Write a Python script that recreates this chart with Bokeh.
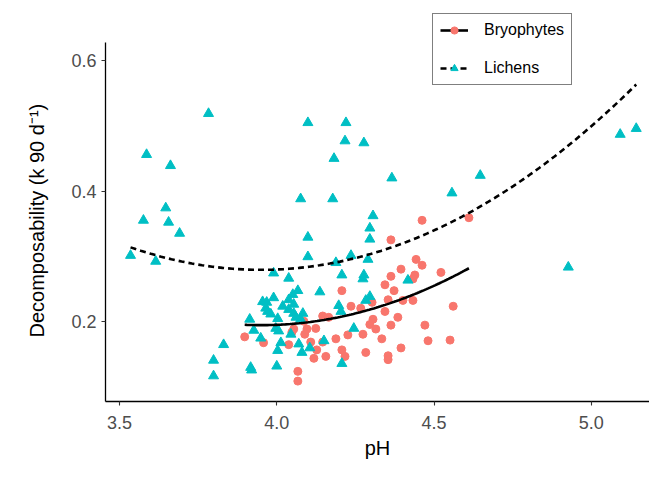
import numpy as np
from bokeh.plotting import figure
from bokeh.models import Range1d, FixedTicker, Legend, LegendItem, Title
from bokeh.embed import file_html
from bokeh.resources import INLINE

# ---- data ----
lichen_ph = [3.586, 3.662, 3.783, 3.647, 3.576, 3.656, 3.691, 3.535, 3.615, 3.990,
             4.038, 4.076, 4.099, 4.220, 4.217, 4.277, 4.182, 4.366, 4.178, 4.557,
             4.647, 5.092, 5.143, 4.927, 4.306, 4.296, 4.296, 4.099, 4.099, 4.236,
             4.290, 4.188, 4.207, 4.277, 4.274, 4.417, 4.296, 4.283, 4.245, 4.137,
             4.067, 4.051, 3.990, 4.038, 3.955, 3.968, 4.054, 4.197, 4.019, 3.965,
             4.204, 4.038, 3.971, 4.054, 4.083, 3.981, 4.061, 4.003, 3.914, 4.076,
             3.997, 4.006, 3.927, 4.045, 3.949, 4.013, 4.070, 4.003, 4.080, 4.105,
             4.150, 3.831, 3.799, 3.917, 3.920, 4.000, 3.799, 4.207]
lichen_k = [0.456, 0.439, 0.519, 0.374, 0.355, 0.352, 0.335, 0.301, 0.292, 0.274,
            0.266, 0.388, 0.505, 0.505, 0.477, 0.474, 0.450, 0.420, 0.388, 0.397,
            0.424, 0.487, 0.496, 0.283, 0.362, 0.343, 0.326, 0.329, 0.299, 0.301,
            0.295, 0.290, 0.271, 0.271, 0.265, 0.263, 0.238, 0.232, 0.189, 0.245,
            0.247, 0.241, 0.236, 0.233, 0.230, 0.229, 0.226, 0.224, 0.223, 0.220,
            0.215, 0.218, 0.215, 0.212, 0.212, 0.211, 0.206, 0.204, 0.203, 0.203,
            0.189, 0.185, 0.186, 0.180, 0.174, 0.167, 0.165, 0.155, 0.152, 0.159,
            0.170, 0.164, 0.140, 0.129, 0.125, 0.131, 0.116, 0.135]

bryo_ph = [3.898, 3.958, 4.207, 4.086, 4.146, 4.165, 4.236, 4.267, 4.054, 4.048,
           4.096, 4.124, 4.089, 4.108, 4.038, 4.146, 4.188, 4.226, 4.127, 4.207,
           4.156, 4.217, 4.118, 4.067, 4.067, 4.462, 4.611, 4.363, 4.443, 4.462,
           4.395, 4.363, 4.522, 4.439, 4.433, 4.344, 4.373, 4.354, 4.401, 4.433,
           4.303, 4.561, 4.344, 4.306, 4.296, 4.385, 4.315, 4.363, 4.471, 4.274,
           4.334, 4.481, 4.551, 4.395, 4.283, 4.354, 4.354]
bryo_k = [0.176, 0.167, 0.247, 0.200, 0.208, 0.206, 0.223, 0.220, 0.188, 0.183,
          0.188, 0.189, 0.180, 0.168, 0.164, 0.168, 0.173, 0.179, 0.156, 0.156,
          0.146, 0.146, 0.143, 0.123, 0.108, 0.355, 0.359, 0.325, 0.295, 0.286,
          0.280, 0.269, 0.275, 0.271, 0.265, 0.256, 0.247, 0.233, 0.232, 0.232,
          0.229, 0.223, 0.215, 0.203, 0.195, 0.206, 0.188, 0.194, 0.194, 0.180,
          0.173, 0.170, 0.171, 0.159, 0.152, 0.147, 0.141]

# quadratic fits (shared curvature, group-specific minimum)
fit_curvature = 0.20
fit_vertex_ph = 3.95
fit_min_bryo = 0.194
fit_min_lichen = 0.279

x_ticks = [3.5, 4.0, 4.5, 5.0]
x_tick_labels = ["3.5", "4.0", "4.5", "5.0"]
y_ticks = [0.2, 0.4, 0.6]
y_tick_labels = ["0.2", "0.4", "0.6"]

X_LO, X_HI = 3.4554, 5.1852
Y_LO, Y_AXIS_HI, Y_FRAME_HI = 0.0767, 0.6286, 0.6804

BRYO_COL = "#F8766D"
LICH_COL = "#00BFC4"
FONT = "Liberation Sans"

p = figure(width=649, height=461, output_backend="svg", toolbar_location=None,
           x_range=Range1d(X_LO, X_HI), y_range=Range1d(Y_LO, Y_FRAME_HI),
           min_border_left=105, min_border_right=0, min_border_top=8,
           min_border_bottom=57)
p.outline_line_color = None
p.xgrid.visible = False
p.ygrid.visible = False
p.background_fill_color = "white"
p.border_fill_color = "white"

for ax in (p.xaxis[0], p.yaxis[0]):
    ax.axis_line_color = "black"
    ax.axis_line_width = 1.3
    ax.major_tick_line_color = "#333333"
    ax.major_tick_line_width = 1.1
    ax.major_tick_out = 4
    ax.major_tick_in = 0
    ax.minor_tick_line_color = None
    ax.major_label_text_font = FONT
    ax.major_label_text_font_size = "18px"
    ax.major_label_text_color = "#4D4D4D"
    ax.axis_label_text_font = FONT
    ax.axis_label_text_font_size = "20px"
    ax.axis_label_text_font_style = "normal"
    ax.axis_label_text_color = "black"

p.yaxis.bounds = (Y_LO, Y_AXIS_HI)
p.xaxis.ticker = FixedTicker(ticks=x_ticks)
p.xaxis.major_label_overrides = dict(zip(x_ticks, x_tick_labels))
p.yaxis.ticker = FixedTicker(ticks=y_ticks)
p.yaxis.major_label_overrides = dict(zip(y_ticks, y_tick_labels))
p.xaxis.axis_label = "pH"
p.xaxis.major_label_standoff = 10
p.yaxis.major_label_standoff = 5
p.xaxis.axis_label_standoff = 5

# y title as a side Title so it can be centred on the drawn axis, not the frame
ytitle = Title(text="Decomposability (k 90 d\u207b\u00b9)", align="left",
               offset=64, standoff=42, text_font=FONT, text_font_size="20px",
               text_font_style="normal", text_color="black")
p.add_layout(ytitle, "left")

s_b = p.scatter(bryo_ph, bryo_k, marker="circle", size=8, fill_color=BRYO_COL,
                line_color=BRYO_COL)
s_l = p.scatter(lichen_ph, lichen_k, marker="triangle", size=10,
                fill_color=LICH_COL, line_color=LICH_COL)

xb = np.linspace(min(bryo_ph), max(bryo_ph), 100)
yb = fit_curvature * (xb - fit_vertex_ph) ** 2 + fit_min_bryo
xl = np.linspace(min(lichen_ph), max(lichen_ph), 100)
yl = fit_curvature * (xl - fit_vertex_ph) ** 2 + fit_min_lichen

l_b = p.line(xb, yb, line_color="black", line_width=2.6)
l_l = p.line(xl, yl, line_color="black", line_width=2.6, line_dash="6 4")

legend = Legend(items=[LegendItem(label="Bryophytes", renderers=[l_b, s_b]),
                       LegendItem(label="Lichens", renderers=[l_l, s_l])],
                location=(327, 316), margin=0, padding=7, spacing=20,
                glyph_width=28, glyph_height=18, label_height=18,
                label_standoff=16, label_text_font=FONT,
                label_text_font_size="16px", label_text_color="black",
                border_line_color="black", border_line_width=1,
                background_fill_color="white", background_fill_alpha=1)
p.add_layout(legend, "center")

open("out.html", "w").write(file_html(p, INLINE))
